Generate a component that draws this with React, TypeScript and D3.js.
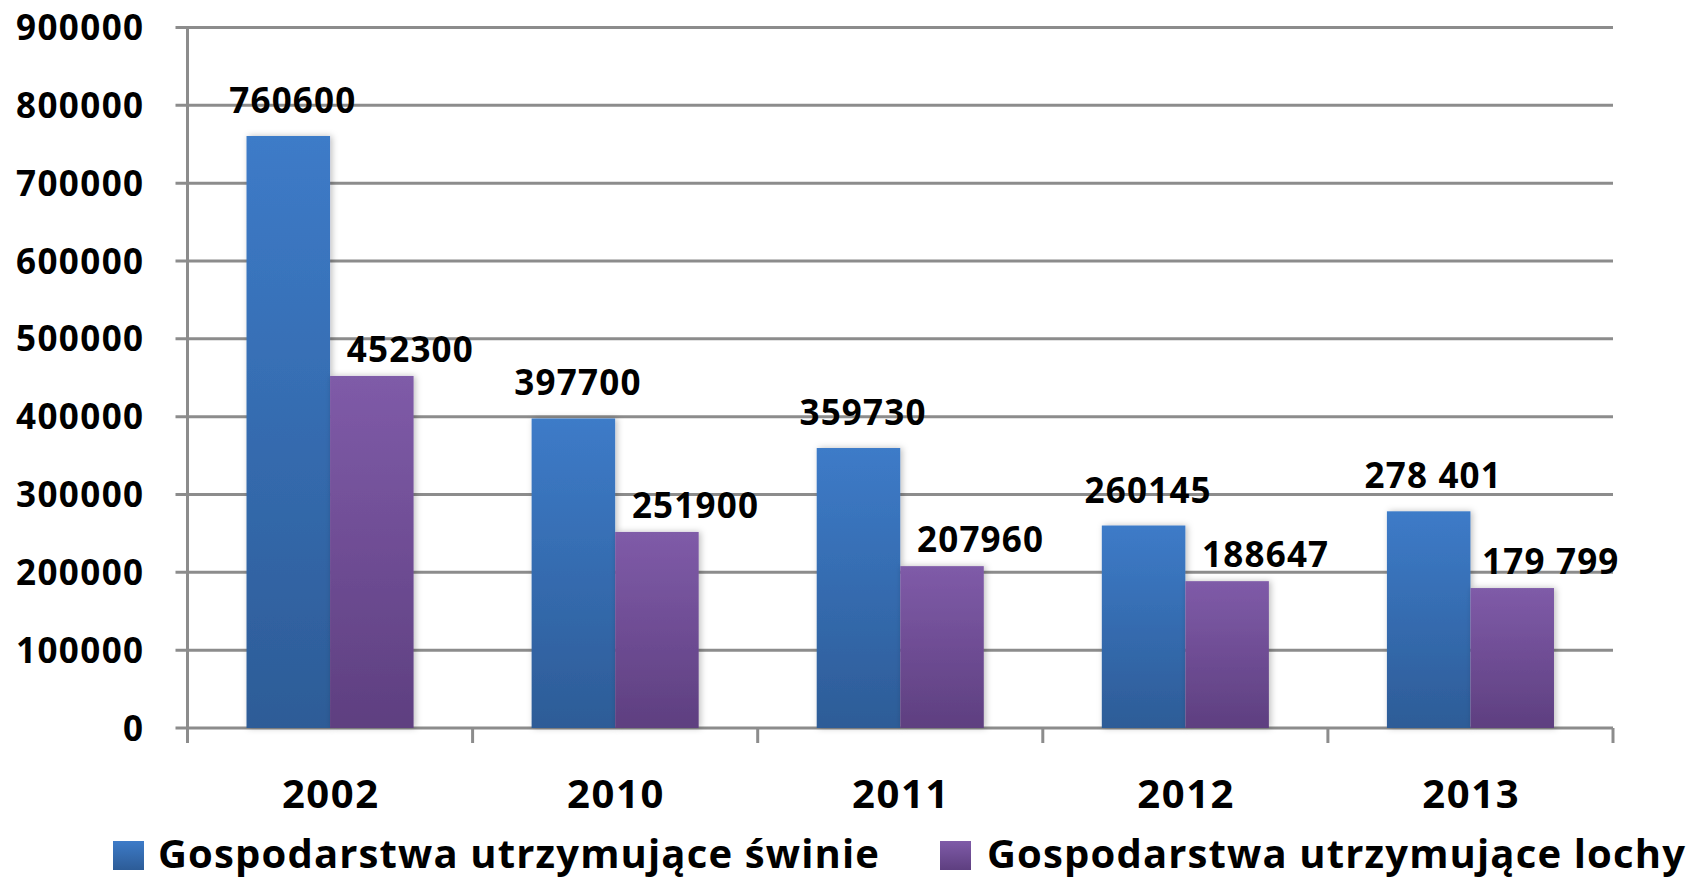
import React, { useEffect, useRef } from 'react';
import * as d3 from 'd3';

const years = ['2002', '2010', '2011', '2012', '2013'];
const swinie = [760600, 397700, 359730, 260145, 278401];
const lochy = [452300, 251900, 207960, 188647, 179799];
const swinieLabels = ['760600', '397700', '359730', '260145', '278 401'];
const lochyLabels = ['452300', '251900', '207960', '188647', '179 799'];
const yTicks = [0, 100000, 200000, 300000, 400000, 500000, 600000, 700000, 800000, 900000];
const seriesNames = ['Gospodarstwa utrzymujące świnie', 'Gospodarstwa utrzymujące lochy'];

const W = 1688;
const H = 879;
const FONT = '"Open Sans", "DejaVu Sans", sans-serif';

const App: React.FC = () => {
  const svgRef = useRef<SVGSVGElement>(null);

  useEffect(() => {
    document.body.style.margin = '0';
    if (!svgRef.current) return;
    const svg = d3.select(svgRef.current);
    svg.selectAll('*').remove();

    const left = 187.5;
    const right = 1613;
    const top = 27.5;
    const bottom = 728;

    const defs = svg.append('defs');
    const grad = (id: string, c1: string, c2: string) => {
      const g = defs.append('linearGradient').attr('id', id).attr('x1', 0).attr('y1', 0).attr('x2', 0).attr('y2', 1);
      g.append('stop').attr('offset', '0%').attr('stop-color', c1);
      g.append('stop').attr('offset', '100%').attr('stop-color', c2);
    };
    grad('gBlue', '#3d7bc8', '#2d5c97');
    grad('gPurple', '#7f5ba8', '#5e3f80');
    const f = defs.append('filter').attr('id', 'shadow').attr('x', '-20%').attr('y', '-10%').attr('width', '140%').attr('height', '120%');
    f.append('feDropShadow').attr('dx', 2).attr('dy', 0).attr('stdDeviation', 3).attr('flood-color', '#000').attr('flood-opacity', 0.25);

    const x0 = d3.scaleBand<string>().domain(years).range([left, right]).paddingInner(0.414).paddingOuter(0.207);
    const x1 = d3.scaleBand<number>().domain([0, 1]).range([0, x0.bandwidth()]).padding(0);
    const y = d3.scaleLinear().domain([0, 900000]).range([bottom, top]);

    // grid
    svg.append('g').selectAll('line').data(yTicks).enter().append('line')
      .attr('x1', left - 12).attr('x2', right)
      .attr('y1', (d) => y(d)).attr('y2', (d) => y(d))
      .attr('stroke', '#8c8c8c').attr('stroke-width', 3);

    // y axis line
    svg.append('line').attr('x1', left).attr('x2', left).attr('y1', top).attr('y2', bottom + 15)
      .attr('stroke', '#8c8c8c').attr('stroke-width', 3);

    // category ticks
    const step = x0.step();
    const bounds = d3.range(years.length + 1).map((i) => left + i * step);
    svg.append('g').selectAll('line').data(bounds).enter().append('line')
      .attr('x1', (d) => d).attr('x2', (d) => d).attr('y1', bottom).attr('y2', bottom + 15)
      .attr('stroke', '#8c8c8c').attr('stroke-width', 3);

    // y tick labels
    svg.append('g').selectAll('text').data(yTicks).enter().append('text')
      .attr('x', 144.5).attr('y', (d) => y(d) + 12.5)
      .attr('text-anchor', 'end')
      .attr('font-family', FONT).attr('font-weight', 700).attr('font-size', 35)
      .attr('letter-spacing', 1.4)
      .text((d) => String(d));

    // bars
    const series = [
      { vals: swinie, labels: swinieLabels, fill: 'url(#gBlue)', dx: 4, dy: -23 },
      { vals: lochy, labels: lochyLabels, fill: 'url(#gPurple)', dx: 38, dy: -14 },
    ];
    series.forEach((s, si) => {
      svg.append('g').selectAll('rect').data(years).enter().append('rect')
        .attr('x', (d) => (x0(d) as number) + (x1(si) as number))
        .attr('width', x1.bandwidth())
        .attr('y', (d, i) => y(s.vals[i]))
        .attr('height', (d, i) => bottom - y(s.vals[i]))
        .attr('fill', s.fill)
        .attr('filter', 'url(#shadow)');
    });
    series.forEach((s, si) => {
      svg.append('g').selectAll('text').data(years).enter().append('text')
        .attr('x', (d) => (x0(d) as number) + (x1(si) as number) + x1.bandwidth() / 2 + s.dx + 0.6)
        .attr('y', (d, i) => y(s.vals[i]) + s.dy)
        .attr('text-anchor', 'middle')
        .attr('font-family', FONT).attr('font-weight', 700).attr('font-size', 35)
        .attr('letter-spacing', 1.2)
        .text((d, i) => s.labels[i]);
    });

    // x labels
    svg.append('g').selectAll('text').data(years).enter().append('text')
      .attr('x', (d) => (x0(d) as number) + x0.bandwidth() / 2 + 0.8)
      .attr('y', 808)
      .attr('text-anchor', 'middle')
      .attr('font-family', FONT).attr('font-weight', 700).attr('font-size', 40)
      .attr('letter-spacing', 1.6)
      .text((d) => d);

    // legend
    const legend = [
      { sx: 113, tx: 158, fill: 'url(#gBlue)' },
      { sx: 940, tx: 987, fill: 'url(#gPurple)' },
    ];
    legend.forEach((l, i) => {
      svg.append('rect').attr('x', l.sx).attr('y', 841).attr('width', 31).attr('height', 29).attr('fill', l.fill);
      svg.append('text').attr('x', l.tx).attr('y', 868)
        .attr('font-family', FONT).attr('font-weight', 700).attr('font-size', 40)
        .attr('letter-spacing', 1.15)
        .text(seriesNames[i]);
    });
  }, []);

  return <svg ref={svgRef} width={W} height={H} style={{ display: 'block', background: '#fff' }} />;
};

export default App;
